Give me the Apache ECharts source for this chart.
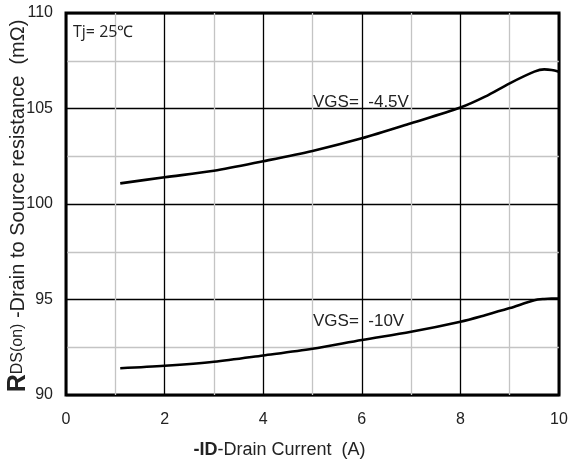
<!DOCTYPE html>
<html>
<head>
<meta charset="utf-8">
<script src="https://cdn.jsdelivr.net/npm/echarts@6/dist/echarts.min.js"></script>
<style>
  html, body { margin: 0; padding: 0; background: #fff; }
  #chart { width: 571px; height: 462px; }
</style>
</head>
<body>
<div id="chart"></div>
<script>
// Drain current (A) sample points
const drainCurrent = [1.1, 2, 3, 4, 5, 6, 7, 8, 8.5, 9, 9.5, 9.7, 9.85, 10];
// On-resistance (mΩ) at VGS = -4.5V
const rdsVgs45 = [101.08, 101.4, 101.74, 102.24, 102.78, 103.44, 104.23, 105.05, 105.62, 106.32, 106.93, 107.05, 107.02, 106.93];
// On-resistance (mΩ) at VGS = -10V
const rdsVgs10 = [91.40, 91.53, 91.74, 92.07, 92.42, 92.88, 93.31, 93.84, 94.18, 94.55, 94.96, 95.03, 95.05, 95.05];

const xTicks = [0, 2, 4, 6, 8, 10];
const yTicks = [90, 95, 100, 105, 110];

const FONT = '"Liberation Sans", Arial, sans-serif';

const pairs = (xs, ys) => xs.map((x, i) => [x, ys[i]]);

const chart = echarts.init(document.getElementById('chart'), null, { renderer: 'canvas' });

const lineStyle = { color: '#000', width: 2.6 };

chart.setOption({
  backgroundColor: '#fff',
  animation: false,
  grid: {
    left: 66, right: 12, top: 13, bottom: 67,
    containLabel: false,
    outerBoundsMode: 'none',
    show: true, borderColor: '#000', borderWidth: 3, backgroundColor: 'transparent'
  },
  xAxis: {
    type: 'value',
    min: xTicks[0], max: xTicks[xTicks.length - 1], interval: 2,
    axisLine: { show: false },
    axisTick: { show: false },
    axisLabel: { color: '#222', fontFamily: FONT, fontSize: 16, margin: 17 },
    splitLine: { show: true, lineStyle: { color: '#000', width: 1.3 } },
    minorTick: { show: false, splitNumber: 2 },
    minorSplitLine: { show: true, lineStyle: { color: '#c4c4c4', width: 1.3 } },
    name: '{b|-ID}{n|-Drain Current  (A)}',
    nameLocation: 'middle',
    nameGap: 46,
    nameTextStyle: {
      padding: [0, 66, 0, 0],
      rich: {
        b: { fontFamily: FONT, fontSize: 18, fontWeight: 'bold', color: '#222' },
        n: { fontFamily: FONT, fontSize: 18, color: '#222' }
      }
    }
  },
  yAxis: {
    type: 'value',
    min: yTicks[0], max: yTicks[yTicks.length - 1], interval: 5,
    axisLine: { show: false },
    axisTick: { show: false },
    axisLabel: { color: '#222', fontFamily: FONT, fontSize: 16, margin: 13 },
    splitLine: { show: true, lineStyle: { color: '#000', width: 1.3 } },
    minorTick: { show: false, splitNumber: 2 },
    minorSplitLine: { show: true, lineStyle: { color: '#c4c4c4', width: 1.3 } }
  },
  series: [
    {
      type: 'line', name: 'VGS= -4.5V',
      data: pairs(drainCurrent, rdsVgs45),
      smooth: 0.3, showSymbol: false, lineStyle: lineStyle, z: 5
    },
    {
      type: 'line', name: 'VGS= -10V',
      data: pairs(drainCurrent, rdsVgs10),
      smooth: 0.3, showSymbol: false, lineStyle: lineStyle, z: 5
    }
  ],
  graphic: [
    {
      // vertical axis title
      type: 'text', x: 18, y: 206, rotation: Math.PI / 2, z: 10,
      style: {
        text: '{r|R}{s|DS(on)}{n| -Drain to Source resistance  (mΩ)}',
        align: 'center', verticalAlign: 'middle',
        rich: {
          r: { fontFamily: FONT, fontSize: 25, fontWeight: 'bold', fill: '#222' },
          s: { fontFamily: FONT, fontSize: 16, fill: '#222' },
          n: { fontFamily: FONT, fontSize: 20, fill: '#222' }
        }
      }
    },
    {
      type: 'text', left: 73, top: 24, z: 10,
      style: { text: 'Tj= 25℃', fontFamily: '"Open Sans", sans-serif', fontSize: 16, fill: '#222' }
    },
    {
      type: 'text', left: 313, top: 94, z: 10,
      style: { text: 'VGS=  -4.5V', fontFamily: FONT, fontSize: 17, fill: '#222' }
    },
    {
      type: 'text', left: 313, top: 313, z: 10,
      style: { text: 'VGS=  -10V', fontFamily: FONT, fontSize: 17, fill: '#222' }
    }
  ]
});
</script>
</body>
</html>
